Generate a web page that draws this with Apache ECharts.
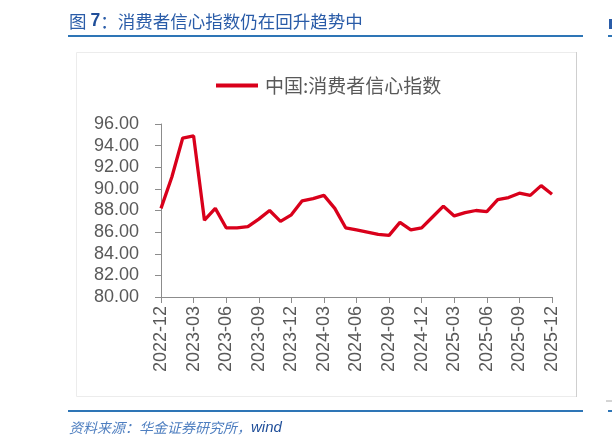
<!DOCTYPE html>
<html>
<head>
<meta charset="utf-8">
<script src="https://cdn.jsdelivr.net/npm/echarts@6/dist/echarts.min.js"></script>
<style>
html,body{margin:0;padding:0;background:#fff;}
#c{width:612px;height:448px;}
</style>
</head>
<body>
<div id="c"></div>
<script>
const categories = [
  "2022-12","2023-01","2023-02","2023-03","2023-04","2023-05","2023-06","2023-07","2023-08","2023-09","2023-10","2023-11",
  "2023-12","2024-01","2024-02","2024-03","2024-04","2024-05","2024-06","2024-07","2024-08","2024-09","2024-10","2024-11",
  "2024-12","2025-01","2025-02","2025-03","2025-04","2025-05","2025-06","2025-07","2025-08","2025-09","2025-10","2025-11","2025-12"
];
const confidence = [
  88.2, 91.1, 94.7, 94.9, 87.1, 88.2, 86.4, 86.4, 86.5, 87.2, 88.0, 87.0,
  87.6, 88.9, 89.1, 89.4, 88.2, 86.4, 86.2, 86.0, 85.8, 85.7, 86.9, 86.2,
  86.4, 87.4, 88.4, 87.5, 87.8, 88.0, 87.9, 89.0, 89.2, 89.6, 89.4, 90.3, 89.5
];
const seriesName = "中国:消费者信心指数";
const titleHead = "图 ";
const titleNum = "7";
const titleRest = "：消费者信心指数仍在回升趋势中";
const sourceText = "资料来源：华金证券研究所，";
const sourceTail = "wind";

const chart = echarts.init(document.getElementById('c'), null, {renderer: 'canvas'});
const gray = '#595959';
chart.setOption({
  animation: false,
  backgroundColor: '#fff',
  legend: {
    left: 211, top: 71,
    itemWidth: 42, itemHeight: 4,
    itemGap: 10,
    data: [{name: seriesName, icon: 'rect'}],
    textStyle: {color: gray, fontSize: 19, fontFamily: 'Noto Sans CJK SC', padding: [0,0,0,2]}
  },
  grid: {left: 161, right: 60, top: 124, bottom: 151, containLabel: false},
  xAxis: {
    type: 'category',
    data: categories,
    boundaryGap: false,
    axisLine: {lineStyle: {color: '#8c8c8c', width: 1}},
    axisTick: {interval: 2, length: 6, lineStyle: {color: '#8c8c8c'}},
    axisLabel: {interval: 2, rotate: 90, color: gray, fontSize: 18, margin: 9, fontFamily: 'Liberation Sans'}
  },
  yAxis: {
    type: 'value',
    min: 80, max: 96, interval: 2,
    axisLine: {show: true, lineStyle: {color: '#8c8c8c', width: 1}},
    axisTick: {show: true, length: 6, lineStyle: {color: '#8c8c8c'}},
    splitLine: {show: false},
    axisLabel: {color: gray, fontSize: 18, margin: 22, fontFamily: 'Liberation Sans', formatter: v => v.toFixed(2)}
  },
  series: [{
    name: seriesName,
    type: 'line',
    data: confidence,
    symbol: 'none',
    lineStyle: {color: '#d9001b', width: 3.3},
    itemStyle: {color: '#d9001b'}
  }],
  graphic: [
    {type: 'rect', shape: {x: 76.5, y: 52.5, width: 500, height: 344}, style: {fill: 'none', stroke: '#ececec', lineWidth: 1}, silent: true, z: -1},
    {type: 'line', shape: {x1: 576.5, y1: 52, x2: 576.5, y2: 397}, style: {stroke: '#cfcfcf', lineWidth: 1}, z: -1},
    {type: 'line', shape: {x1: 68, y1: 36, x2: 583, y2: 36}, style: {stroke: '#2e75b6', lineWidth: 2}},
    {type: 'line', shape: {x1: 68, y1: 411, x2: 583, y2: 411}, style: {stroke: '#2e75b6', lineWidth: 2}},
    {type: 'line', shape: {x1: 608, y1: 36, x2: 612, y2: 36}, style: {stroke: '#2e75b6', lineWidth: 2}},
    {type: 'line', shape: {x1: 608, y1: 411, x2: 612, y2: 411}, style: {stroke: '#2e75b6', lineWidth: 2}},
    {type: 'line', shape: {x1: 606, y1: 401, x2: 612, y2: 401}, style: {stroke: '#aaaaaa', lineWidth: 1}},
    {type: 'rect', shape: {x: 609, y: 19, width: 3, height: 10}, style: {fill: '#2a5ca8'}},
    {type: 'text', left: 69, top: 12, style: {
      text: '{a|' + titleHead + '}{n|' + titleNum + '}{a|' + titleRest + '}',
      rich: {
        a: {fill: '#2a5ca8', fontSize: 17.5, fontFamily: 'Noto Sans CJK SC'},
        n: {fill: '#1f4e99', fontSize: 17.5, fontWeight: 'bold', fontFamily: 'Liberation Sans'}
      }
    }},
    {type: 'text', left: 69, top: 420, style: {
      text: '{a|' + sourceText + '}{b|' + sourceTail + '}',
      rich: {
        a: {fill: '#4f7fc0', fontSize: 14, fontStyle: 'italic', fontFamily: 'Noto Sans CJK SC'},
        b: {fill: '#1f4e99', fontSize: 15, fontStyle: 'italic', fontFamily: 'Liberation Sans'}
      }
    }}
  ]
});
</script>
</body>
</html>
